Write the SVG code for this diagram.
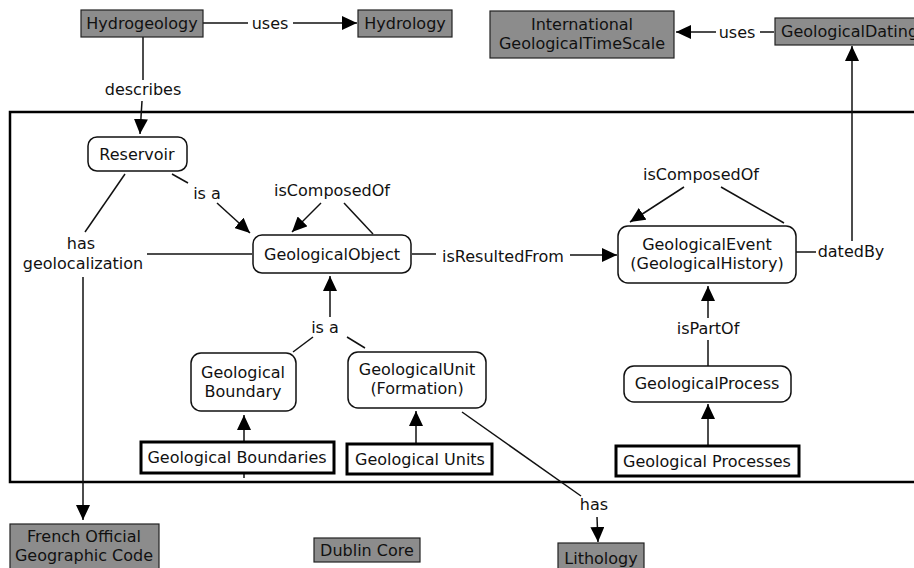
<svg xmlns="http://www.w3.org/2000/svg" width="914" height="568" viewBox="0 0 914 568">
<defs>
<marker id="arr" markerUnits="userSpaceOnUse" markerWidth="16" markerHeight="14" refX="15" refY="7" orient="auto" viewBox="0 0 16 14">
<path d="M0,0 L15,7 L0,14 z" fill="#000"/>
</marker>
</defs>
<style>
text{font-family:"DejaVu Sans","Liberation Sans",sans-serif;font-size:16px;fill:#111;text-anchor:middle}
.c line{stroke:#111;stroke-width:1.5;fill:none}
.c .a{marker-end:url(#arr)}
.ext{fill:#8c8c8c;stroke:#222;stroke-width:1.2}
.cls{fill:#fff;stroke:#111;stroke-width:1.5}
.grp{fill:#fff;stroke:#000;stroke-width:3}
.frame{fill:none;stroke:#000;stroke-width:2.5}
</style>
<rect width="914" height="568" fill="#fff"/>
<rect class="frame" x="10" y="112" width="920" height="370"/>
<g class="c" id="connectors">
<line x1="203" y1="23" x2="248" y2="23"/>
<text x="270" y="29">uses</text>
<line class="a" x1="293" y1="23" x2="357" y2="23"/>
<line x1="143" y1="37" x2="143" y2="80"/>
<text x="143" y="95">describes</text>
<line class="a" x1="142" y1="101" x2="140" y2="134"/>
<line x1="172" y1="174" x2="188" y2="183"/>
<text x="207" y="199">is a</text>
<line class="a" x1="217" y1="203" x2="250" y2="233"/>
<text x="332" y="196">isComposedOf</text>
<line class="a" x1="321" y1="203" x2="292" y2="232"/>
<line x1="344" y1="203" x2="373" y2="234"/>
<line x1="125" y1="174" x2="85" y2="232"/>
<text x="81" y="249">has</text>
<text x="83" y="269">geolocalization</text>
<line x1="147" y1="254" x2="252" y2="254"/>
<line class="a" x1="83" y1="277" x2="83" y2="520"/>
<line x1="412" y1="254" x2="436" y2="254"/>
<text x="503" y="262">isResultedFrom</text>
<line class="a" x1="570" y1="255" x2="617" y2="255"/>
<line class="a" x1="330" y1="317" x2="330" y2="276"/>
<text x="325" y="333">is a</text>
<line x1="313" y1="337" x2="293" y2="352"/>
<line x1="347" y1="337" x2="365" y2="348"/>
<line class="a" x1="244" y1="442" x2="244" y2="415"/>
<line x1="244" y1="473" x2="244" y2="478"/>
<line class="a" x1="416" y1="444" x2="416" y2="411"/>
<line x1="462" y1="412" x2="581" y2="496"/>
<text x="594" y="510">has</text>
<line class="a" x1="597" y1="517" x2="598" y2="542"/>
<text x="701" y="180">isComposedOf</text>
<line class="a" x1="684" y1="187" x2="630" y2="222"/>
<line x1="721" y1="187" x2="784" y2="223"/>
<line x1="796" y1="252" x2="816" y2="252"/>
<text x="851" y="257">datedBy</text>
<line class="a" x1="852" y1="241" x2="852" y2="46"/>
<line x1="708" y1="366" x2="708" y2="340"/>
<text x="708" y="334">isPartOf</text>
<line class="a" x1="708" y1="318" x2="708" y2="286"/>
<line class="a" x1="708" y1="446" x2="708" y2="404"/>
<line x1="774" y1="32" x2="760" y2="32"/>
<text x="737" y="38">uses</text>
<line class="a" x1="716" y1="32" x2="676" y2="32"/>
</g>
<g id="Hydrogeology"><rect class="ext" x="81" y="10" width="122" height="27"/><text x="142" y="29">Hydrogeology</text></g>
<g id="Hydrology"><rect class="ext" x="358" y="10" width="94" height="27"/><text x="405" y="29">Hydrology</text></g>
<g id="InternationalGeologicalTimeScale"><rect class="ext" x="490" y="11" width="184" height="47"/><text x="582" y="30">International</text><text x="582" y="49">GeologicalTimeScale</text></g>
<g id="GeologicalDating"><rect class="ext" x="775" y="18" width="150" height="27"/><text x="781" y="37" style="text-anchor:start">GeologicalDating</text></g>
<g id="Reservoir"><rect class="cls" x="88" y="137" width="99" height="34" rx="9"/><text x="137" y="160">Reservoir</text></g>
<g id="GeologicalObject"><rect class="cls" x="253" y="235" width="158" height="38" rx="9"/><text x="332" y="260">GeologicalObject</text></g>
<g id="GeologicalEvent"><rect class="cls" x="618" y="226" width="178" height="57" rx="10"/><text x="707" y="250">GeologicalEvent</text><text x="707" y="269">(GeologicalHistory)</text></g>
<g id="GeologicalBoundary"><rect class="cls" x="191" y="353" width="105" height="58" rx="10"/><text x="243" y="378">Geological</text><text x="243" y="397">Boundary</text></g>
<g id="GeologicalUnit"><rect class="cls" x="348" y="352" width="138" height="56" rx="10"/><text x="417" y="375">GeologicalUnit</text><text x="417" y="394">(Formation)</text></g>
<g id="GeologicalProcess"><rect class="cls" x="624" y="366" width="167" height="36" rx="10"/><text x="707" y="389">GeologicalProcess</text></g>
<g id="GeologicalBoundaries"><rect class="grp" x="141" y="442" width="193" height="31"/><text x="237" y="463">Geological Boundaries</text></g>
<g id="GeologicalUnits"><rect class="grp" x="347" y="444" width="145" height="30"/><text x="420" y="465">Geological Units</text></g>
<g id="GeologicalProcesses"><rect class="grp" x="616" y="446" width="183" height="30"/><text x="707" y="467">Geological Processes</text></g>
<g id="FrenchOfficialGeographicCode"><rect class="ext" x="10" y="524" width="149" height="50"/><text x="84" y="542">French Official</text><text x="84" y="561">Geographic Code</text></g>
<g id="DublinCore"><rect class="ext" x="314" y="538" width="106" height="24"/><text x="367" y="556">Dublin Core</text></g>
<g id="Lithology"><rect class="ext" x="558" y="543" width="86" height="30"/><text x="601" y="564">Lithology</text></g>
</svg>
